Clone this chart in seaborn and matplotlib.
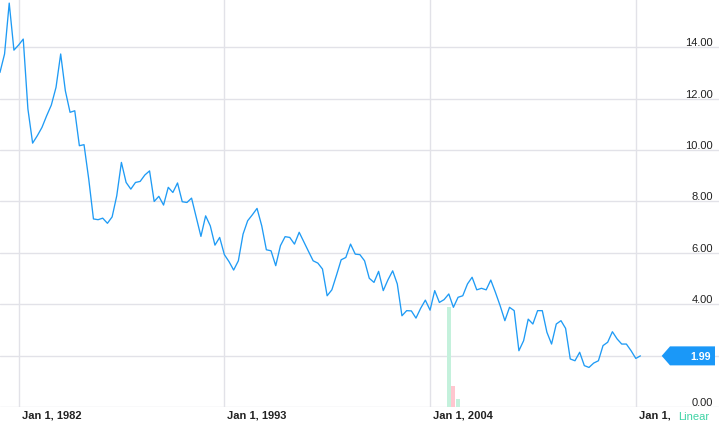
"""
Quarterly yield chart, redrawn with seaborn on a light grid.
"""

import numpy as np
import pandas as pd
import matplotlib
matplotlib.use("Agg")
import matplotlib.pyplot as plt
import matplotlib.transforms as mtransforms
from matplotlib.patches import Polygon
import seaborn as sns

# quarterly values, Jan 1981 onwards
rate = [
    13.02, 13.74, 15.72, 13.89, 14.09, 14.32, 11.60, 10.27, 10.56, 10.88,
    11.33, 11.75, 12.44, 13.74, 12.31, 11.47, 11.53, 10.17, 10.21, 8.87,
    7.32, 7.29, 7.35, 7.15, 7.40, 8.22, 9.52, 8.74, 8.48, 8.74,
    8.78, 9.03, 9.19, 8.00, 8.20, 7.86, 8.55, 8.35, 8.72, 7.99,
    7.96, 8.13, 7.38, 6.64, 7.44, 7.05, 6.30, 6.60, 5.93, 5.66,
    5.33, 5.69, 6.73, 7.25, 7.48, 7.73, 7.05, 6.12, 6.08, 5.50,
    6.28, 6.63, 6.60, 6.34, 6.80, 6.43, 6.06, 5.69, 5.60, 5.37,
    4.33, 4.56, 5.14, 5.73, 5.82, 6.34, 5.95, 5.93, 5.69, 5.01,
    4.85, 5.28, 4.53, 4.95, 5.30, 4.79, 3.55, 3.75, 3.74, 3.46,
    3.84, 4.16, 3.77, 4.53, 4.07, 4.18, 4.40, 3.88, 4.27, 4.33,
    4.79, 5.05, 4.56, 4.62, 4.56, 4.94, 4.46, 3.94, 3.36, 3.88,
    3.75, 2.19, 2.58, 3.42, 3.23, 3.75, 3.75, 2.91, 2.45, 3.23,
    3.36, 3.06, 1.87, 1.80, 2.13, 1.61, 1.54, 1.71, 1.80, 2.39,
    2.52, 2.93, 2.65, 2.45, 2.45, 2.19, 1.89, 1.99,
]
dates = pd.date_range("1981-01-01", periods=len(rate), freq="QS")

# small volume-like bars
bar_dates = pd.to_datetime(["2005-01-01", "2005-04-01", "2005-07-01"])
bar_values = [3.88, 0.82, 0.32]
bar_colors = ["#c4f1dc", "#ffc6cf", "#c4f1dc"]

x_ticks = pd.to_datetime(["1982-01-01", "1993-01-01", "2004-01-01", "2015-01-01"])
x_labels = ["Jan 1, 1982", "Jan 1, 1993", "Jan 1, 2004", "Jan 1, 2015"]
y_ticks = [0, 2, 4, 6, 8, 10, 12, 14]

LINE = "#1f9bf5"
GRID = "#e2e2e8"

sns.set_theme(style="white")
plt.rcParams["font.family"] = ["Liberation Sans", "DejaVu Sans"]

df = pd.DataFrame({"date": dates, "rate": rate})

fig = plt.figure(figsize=(7.19, 4.31), dpi=100)
ax = fig.add_axes([0, 23 / 431, 1, 408 / 431])

ax.bar(bar_dates, bar_values, width=80, color=bar_colors, zorder=1, linewidth=0)
sns.lineplot(data=df, x="date", y="rate", ax=ax, color=LINE, linewidth=0.95, zorder=3)

ax.set_xlim(pd.Timestamp("1981-01-02"), pd.Timestamp("2019-06-14"))
ax.set_ylim(0, 15.88)
for s in ax.spines.values():
    s.set_visible(False)
ax.set_xlabel("")
ax.set_ylabel("")

# grid
ax.set_axisbelow(True)
ax.set_yticks(y_ticks)
ax.set_xticks(x_ticks)
ax.grid(True, color=GRID, linewidth=1.0)

# x: grid lines run down into the label strip, labels to the right of them
ax.tick_params(axis="x", direction="out", length=16.5, width=1.0, color=GRID, labelbottom=False)
xtr = ax.get_xaxis_transform() + mtransforms.ScaledTranslation(3 / 100, -3 / 100, fig.dpi_scale_trans)
for d, lab in zip(x_ticks, x_labels):
    ax.text(d, 0, lab, transform=xtr, ha="left", va="top", fontsize=8,
            fontweight="bold", color="#222222", clip_on=False)

# y: labels on the right, sitting on the grid line; the 2.00 one is hidden by the flag
last = rate[-1]
ax.yaxis.tick_right()
ax.tick_params(axis="y", length=0, pad=-4.3, labelsize=8, labelcolor="#222222")
ax.set_yticklabels(["" if abs(v - last) < 0.5 else f"{v:.2f}" for v in y_ticks])
for lab in ax.get_yticklabels():
    lab.set_horizontalalignment("right")
    lab.set_verticalalignment("bottom")

# last value flag
anchor = mtransforms.blended_transform_factory(ax.transAxes, ax.transData)
flag_tr = fig.dpi_scale_trans + mtransforms.ScaledTranslation(1, last, anchor)
h = 9.5 / 100
flag = Polygon([(-0.04, -h), (-0.04, h), (-0.49, h), (-0.573, 0), (-0.49, -h)],
               closed=True, transform=flag_tr, facecolor="#1a98f8", edgecolor="none",
               zorder=6, clip_on=False)
ax.add_patch(flag)
ax.text(0, 0, f"{last:.2f}", transform=flag_tr + mtransforms.Affine2D().translate(-8.5, 0),
        ha="right", va="center", fontsize=7.6, fontweight="bold", color="white", zorder=7)

# scale switch, its white box covers the tail of the last date label
fig.text(709 / 719, 14 / 431, "Linear", ha="right", va="center", fontsize=8, color="#3fd3a5",
         bbox=dict(boxstyle="square,pad=0.32", facecolor="white", edgecolor="none"))

fig.savefig("out.png", dpi=100)
